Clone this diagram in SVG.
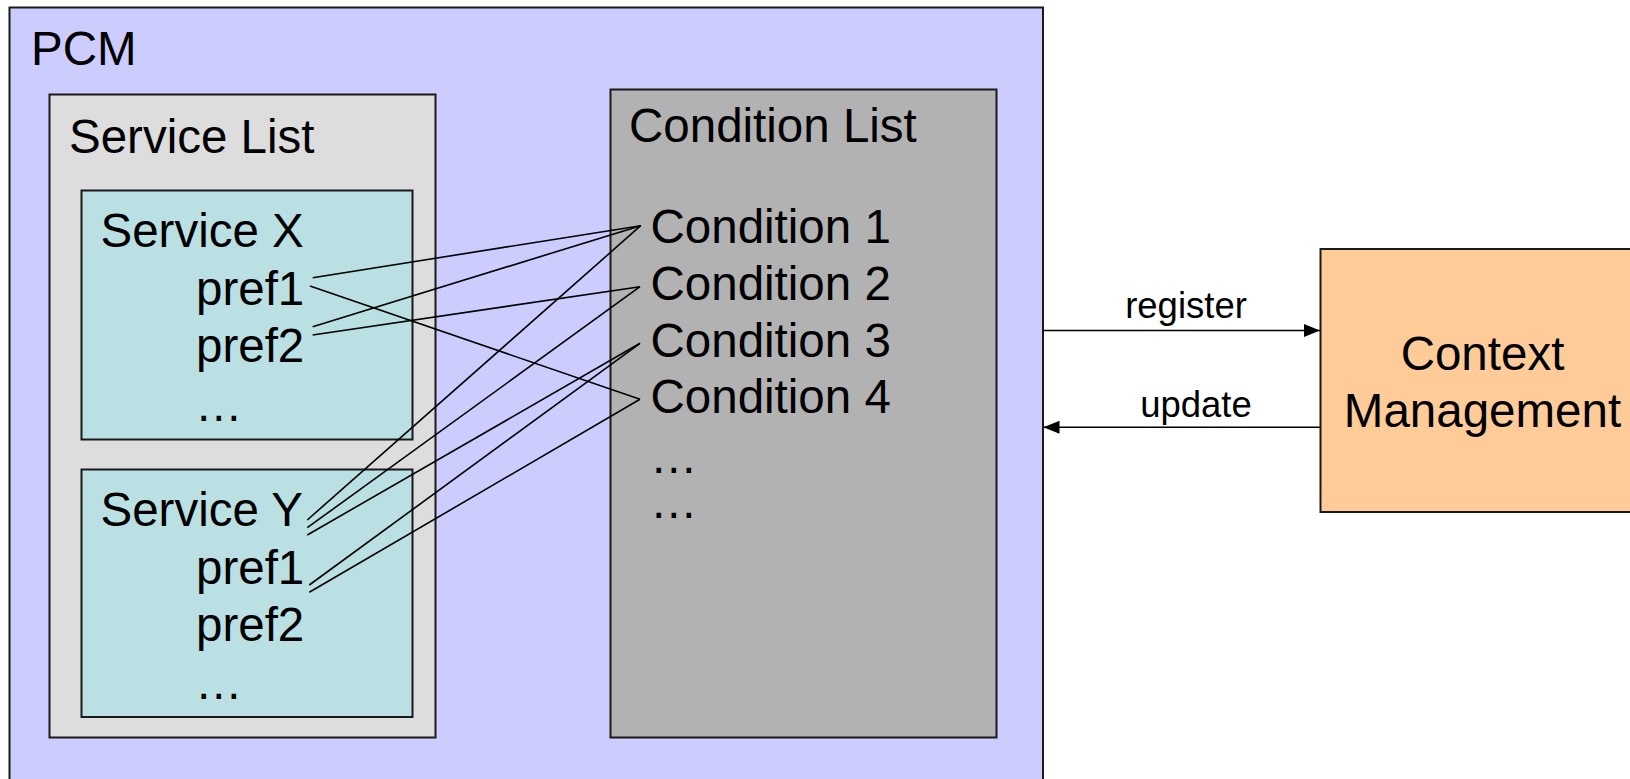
<svg xmlns="http://www.w3.org/2000/svg" width="1630" height="779" viewBox="0 0 1630 779">
<style>
text{font-family:"Liberation Sans",Arial,sans-serif;fill:#000}
.big{font-size:47.5px}
.lbl{font-size:36.5px}
.box{stroke:#1a1a1a;stroke-width:2}
.conn{stroke:#000;stroke-width:1.6;fill:none}
</style>
<defs>
<marker id="ah" viewBox="0 0 16 13" refX="16" refY="6.5" markerWidth="16" markerHeight="13" markerUnits="userSpaceOnUse" orient="auto">
<path d="M0,0 L16,6.5 L0,13 Z" fill="#000"/>
</marker>
</defs>
<rect width="1630" height="779" fill="#fff"/>
<g id="pcm">
<rect class="box" x="9.5" y="7.5" width="1033.5" height="800" fill="#CCCCFF"/>
<text class="big" x="31" y="65">PCM</text>
</g>
<g id="service-list">
<rect class="box" x="49.5" y="94.5" width="386" height="643" fill="#DDDDDD"/>
<text class="big" x="69" y="152.5">Service List</text>
</g>
<g id="service-x">
<rect class="box" x="81.5" y="190.5" width="331" height="249" fill="#BAE0E3"/>
<text class="big" x="100.5" y="246.5">Service X</text>
<text class="big" x="196" y="304.5">pref1</text>
<text class="big" x="196" y="361.5">pref2</text>
<text class="big" x="195" y="420.5">…</text>
</g>
<g id="service-y">
<rect class="box" x="81.5" y="469.5" width="331" height="247.5" fill="#BAE0E3"/>
<text class="big" x="100.5" y="526">Service Y</text>
<text class="big" x="196" y="583.5">pref1</text>
<text class="big" x="196" y="640.5">pref2</text>
<text class="big" x="195" y="698.5">…</text>
</g>
<g id="condition-list">
<rect class="box" x="610.5" y="89.5" width="386" height="648" fill="#B2B2B2"/>
<text class="big" x="629" y="141.5">Condition List</text>
<text class="big" x="650.5" y="243">Condition 1</text>
<text class="big" x="650.5" y="300">Condition 2</text>
<text class="big" x="650.5" y="356.5">Condition 3</text>
<text class="big" x="650.5" y="413">Condition 4</text>
<text class="big" x="650" y="473">…</text>
<text class="big" x="650" y="518">…</text>
</g>
<g id="context-management">
<rect class="box" x="1320.5" y="249" width="340" height="263" fill="#FFCC99"/>
<text class="big" x="1482.5" y="370" text-anchor="middle">Context</text>
<text class="big" x="1482.5" y="426.5" text-anchor="middle">Management</text>
</g>
<g id="connectors">
<path class="conn" d="M312.7,277.7 L640.7,225.7"/>
<path class="conn" d="M310,286 L640,399.3"/>
<path class="conn" d="M312.7,326.7 L640.7,225.7"/>
<path class="conn" d="M312.7,335 L640,286.7"/>
<path class="conn" d="M307.3,520 L640.7,225.7"/>
<path class="conn" d="M307.3,527.7 L640,286.7"/>
<path class="conn" d="M307.3,535 L640,343.3"/>
<path class="conn" d="M309.3,585 L640,343.3"/>
<path class="conn" d="M309.3,592.3 L640,399.3"/>
<path class="conn" d="M1043,330.5 L1320,330.5" marker-end="url(#ah)"/>
<path class="conn" d="M1320,427.3 L1043.5,427.3" marker-end="url(#ah)"/>
<text class="lbl" x="1186" y="318" text-anchor="middle">register</text>
<text class="lbl" x="1196" y="416.5" text-anchor="middle">update</text>
</g>
</svg>
